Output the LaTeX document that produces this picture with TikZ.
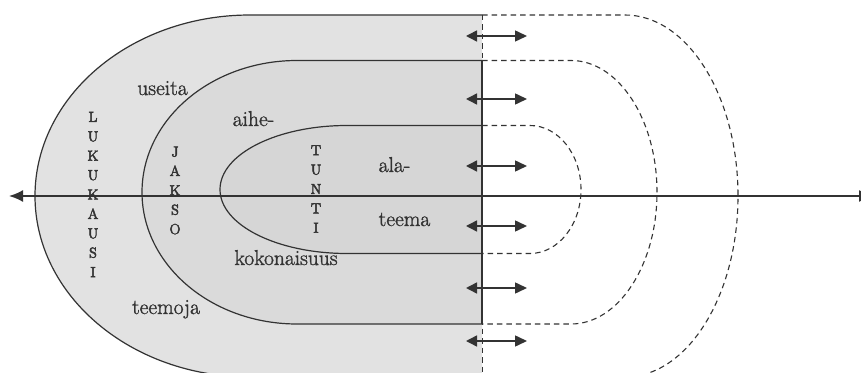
\documentclass[tikz,border=0pt]{standalone}
\usetikzlibrary{arrows.meta}
\definecolor{outerfill}{HTML}{E2E2E2}
\definecolor{midfill}{HTML}{DADADA}
\definecolor{innerfill}{HTML}{D6D6D6}
\definecolor{ink}{HTML}{333333}
\newcommand\heavytext[2]{\special{pdf:literal direct 2 Tr #1 w}#2\special{pdf:literal direct 0 Tr}}
\tikzset{
  edge/.style={draw=ink, line width=1.2pt},
  dashedge/.style={draw=ink, line width=1.1pt, dash pattern=on 5.5pt off 4pt},
  twoway/.style={ink, line width=1.5pt, {Triangle[length=11pt,width=11pt]}-{Triangle[length=12pt,width=11pt]}},
  word/.style={inner sep=0pt, anchor=base, text=ink, font=\fontsize{21.5}{25}\selectfont},
  vword/.style={inner sep=0pt, anchor=center, align=center, text=ink, font=\fontsize{14.5}{19.4}\selectfont},
}
\begin{document}
\begin{tikzpicture}[x=1pt,y=1pt]
\clip (0,0) rectangle (861,372);
\fill[white] (0,0) rectangle (861,372);
% fills
\fill[outerfill] (482,357) -- (250,357) arc[start angle=90, end angle=270, x radius=215, y radius=181] -- (482,-5) -- cycle;
\fill[midfill] (482,311.5) -- (297,311.5) arc[start angle=90, end angle=270, x radius=155, y radius=131.75] -- (482,48) -- cycle;
\fill[innerfill] (482,246.5) -- (347,246.5) arc[start angle=90, end angle=270, x radius=127, y radius=64] -- (482,118.5) -- cycle;
% solid outlines (left halves)
\draw[edge] (482,357) -- (250,357) arc[start angle=90, end angle=270, x radius=215, y radius=181] -- (482,-5);
\draw[edge] (482,311.5) -- (297,311.5) arc[start angle=90, end angle=270, x radius=155, y radius=131.75] -- (482,48);
\draw[edge] (482,246.5) -- (347,246.5) arc[start angle=90, end angle=270, x radius=127, y radius=64] -- (482,118.5);
% dashed outlines (right halves)
\draw[dashedge] (482,357) -- (625,357) arc[start angle=90, end angle=-90, x radius=113, y radius=181] -- (482,-5);
\draw[dashedge] (482,311.5) -- (571,311.5) arc[start angle=90, end angle=-90, x radius=86, y radius=131.75] -- (482,48);
\draw[dashedge] (482,246.5) -- (530,246.5) arc[start angle=90, end angle=-90, x radius=51, y radius=64] -- (482,118.5);
% vertical divider
\coordinate (vtop) at (482.5,357);
\coordinate (vbot) at (482.5,-5);
\coordinate (stop) at (482,311.5);
\coordinate (sbot) at (482,48);
\draw[dashedge] (vtop) -- (vbot);
\draw[edge] (stop) -- (sbot);
% axis
\coordinate (axl) at (9,176);
\coordinate (axr) at (873,176);
\draw[ink, line width=1.8pt, {Latex[length=14pt,width=12pt]}-{Latex[length=14pt,width=12pt]}] (axl) -- (axr);
% double arrows
\foreach \yy/\nm in {336/a1,273/a2,206/a3,146/a4,84/a5,31/a6}{
  \coordinate (\nm l) at (466,\yy);
  \coordinate (\nm r) at (527,\yy);
  \draw[twoway] (\nm l) -- (\nm r);
}
% words
\node[word] (useita) at (162.5,277) {\heavytext{0.3}{useita}};
\node[word] (aihe) at (253.5,246) {\heavytext{0.3}{aihe-}};
\node[word] (ala) at (394.5,200) {\heavytext{0.3}{ala-}};
\node[word] (teema) at (404.5,146) {\heavytext{0.3}{teema}};
\node[word] (kokon) at (286,107) {\heavytext{0.3}{kokonaisuus}};
\node[word] (teemoja) at (166,58) {\heavytext{0.3}{teemoja}};
% vertical words
\node[vword] (lukukausi) at (93,177.5) {\heavytext{0.5}{L}\\\heavytext{0.5}{U}\\\heavytext{0.5}{K}\\\heavytext{0.5}{U}\\\heavytext{0.5}{K}\\\heavytext{0.5}{A}\\\heavytext{0.5}{U}\\\heavytext{0.5}{S}\\\heavytext{0.5}{I}};
\node[vword] (jakso) at (175,181.5) {\heavytext{0.5}{J}\\\heavytext{0.5}{A}\\\heavytext{0.5}{K}\\\heavytext{0.5}{S}\\\heavytext{0.5}{O}};
\node[vword] (tunti) at (316,183) {\heavytext{0.5}{T}\\\heavytext{0.5}{U}\\\heavytext{0.5}{N}\\\heavytext{0.5}{T}\\\heavytext{0.5}{I}};
\end{tikzpicture}
\end{document}
